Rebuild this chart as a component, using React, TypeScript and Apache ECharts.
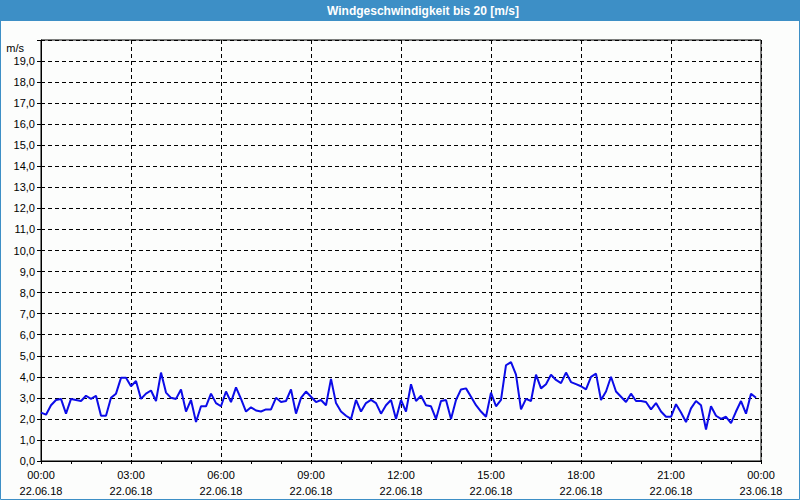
import React, { useEffect, useRef } from "react";
import * as echarts from "echarts";

// Wind speed [m/s], one reading every 10 minutes starting 22.06.18 00:00
const windSpeed: number[] = [
  2.3, 2.2, 2.65, 2.9, 2.95, 2.25, 2.95, 2.9, 2.85, 3.1, 2.95, 3.1, 2.15, 2.15, 3.0, 3.2, 3.95, 3.95, 3.55, 3.8, 2.95, 3.2, 3.35, 2.85, 4.2,
  3.25, 3.0, 2.95, 3.4, 2.35, 2.9, 1.85, 2.6, 2.6, 3.2, 2.75, 2.6, 3.3, 2.8, 3.5, 2.95, 2.35, 2.55, 2.4, 2.35, 2.45, 2.45, 3.0, 2.8,
  2.85, 3.4, 2.25, 3.0, 3.3, 3.05, 2.8, 2.9, 2.65, 3.9, 2.75, 2.35, 2.15, 2.0, 2.9, 2.35, 2.75, 2.9, 2.75, 2.25, 2.65, 2.9, 2.0, 2.9,
  2.35, 3.65, 2.85, 3.1, 2.65, 2.6, 2.0, 2.85, 2.9, 2.0, 2.9, 3.4, 3.45, 3.05, 2.65, 2.35, 2.1, 3.25, 2.6, 2.9, 4.55, 4.7, 4.1, 2.45,
  2.95, 2.85, 4.1, 3.45, 3.65, 4.1, 3.85, 3.7, 4.2, 3.75, 3.65, 3.55, 3.4, 4.0, 4.15, 2.9, 3.3, 4.0, 3.3, 3.05, 2.8, 3.2, 2.85, 2.85,
  2.8, 2.45, 2.75, 2.35, 2.1, 2.1, 2.7, 2.3, 1.85, 2.5, 2.85, 2.65, 1.5, 2.6, 2.15, 2.0, 2.1, 1.8, 2.35, 2.85, 2.25, 3.2, 3.0,
];
const intervalMinutes = 10;

const xTickTimes: string[] = ["00:00", "03:00", "06:00", "09:00", "12:00", "15:00", "18:00", "21:00", "00:00"];
const xTickDates: string[] = ["22.06.18", "22.06.18", "22.06.18", "22.06.18", "22.06.18", "22.06.18", "22.06.18", "22.06.18", "23.06.18"];
const yUnit = "m/s";
const titleText = "Windgeschwindigkeit bis 20 [m/s]";

const FONT = "'Liberation Sans', Arial, sans-serif";
const BLUE = "#3d8fc6";

export default function App() {
  const ref = useRef<HTMLDivElement>(null);

  useEffect(() => {
    document.body.style.margin = "0";
    if (!ref.current) return;
    const chart = echarts.init(ref.current, undefined, { renderer: "svg" });
    const data = windSpeed.map((v, i) => [i * intervalMinutes, v]);
    chart.setOption({
      animation: false,
      backgroundColor: "#fcfdfc",
      textStyle: { fontFamily: FONT },
      title: {
        text: titleText,
        left: 327,
        top: 4,
        padding: 0,
        textStyle: { color: "#ffffff", fontSize: 12, fontWeight: "bold", fontFamily: FONT, lineHeight: 14 },
      },
      graphic: [
        { type: "rect", z: 0, silent: true, shape: { x: 0, y: 0, width: 800, height: 21 }, style: { fill: BLUE } },
        { type: "rect", z: 0, silent: true, shape: { x: 0.5, y: 0.5, width: 799, height: 499 }, style: { fill: "none", stroke: BLUE, lineWidth: 1 } },
      ],
      grid: { left: 41, right: 39, top: 40, bottom: 39, show: true, borderColor: "#000", borderWidth: 1, backgroundColor: "transparent" },
      xAxis: {
        type: "value",
        min: 0,
        max: 1440,
        interval: 180,
        axisLine: { show: true, lineStyle: { color: "#000", width: 1 } },
        axisTick: { show: true, inside: false, length: 3, lineStyle: { color: "#000" } },
        minorTick: { show: true, splitNumber: 3, length: 3, lineStyle: { color: "#000" } },
        splitLine: { show: true, lineStyle: { color: "#000", type: [4, 3], width: 1 } },
        axisLabel: {
          margin: 6,
          color: "#000",
          fontSize: 11,
          fontFamily: FONT,
          lineHeight: 16,
          formatter: (v: number) => {
            const idx = Math.round(v / 180);
            return xTickTimes[idx] + "\n" + xTickDates[idx];
          },
        },
      },
      yAxis: {
        type: "value",
        min: 0,
        max: 20,
        interval: 1,
        name: yUnit,
        nameLocation: "end",
        nameGap: -13,
        nameTextStyle: { color: "#000", fontSize: 11, fontFamily: FONT, align: "right", padding: [0, 17, 0, 0] },
        axisLine: { show: true, lineStyle: { color: "#000", width: 1 } },
        axisTick: { show: true, inside: false, length: 4, lineStyle: { color: "#000" } },
        splitLine: { show: true, lineStyle: { color: "#000", type: [4, 3], width: 1 } },
        axisLabel: {
          margin: 6,
          color: "#000",
          fontSize: 11,
          fontFamily: FONT,
          formatter: (v: number) => (v >= 20 ? "" : v.toFixed(1).replace(".", ",")),
        },
      },
      series: [
        {
          type: "line",
          data,
          symbol: "none",
          lineStyle: { color: "#0c0ce8", width: 2 },
          z: 3,
        },
      ],
    });
    return () => chart.dispose();
  }, []);

  return <div ref={ref} style={{ width: 800, height: 500 }} />;
}
